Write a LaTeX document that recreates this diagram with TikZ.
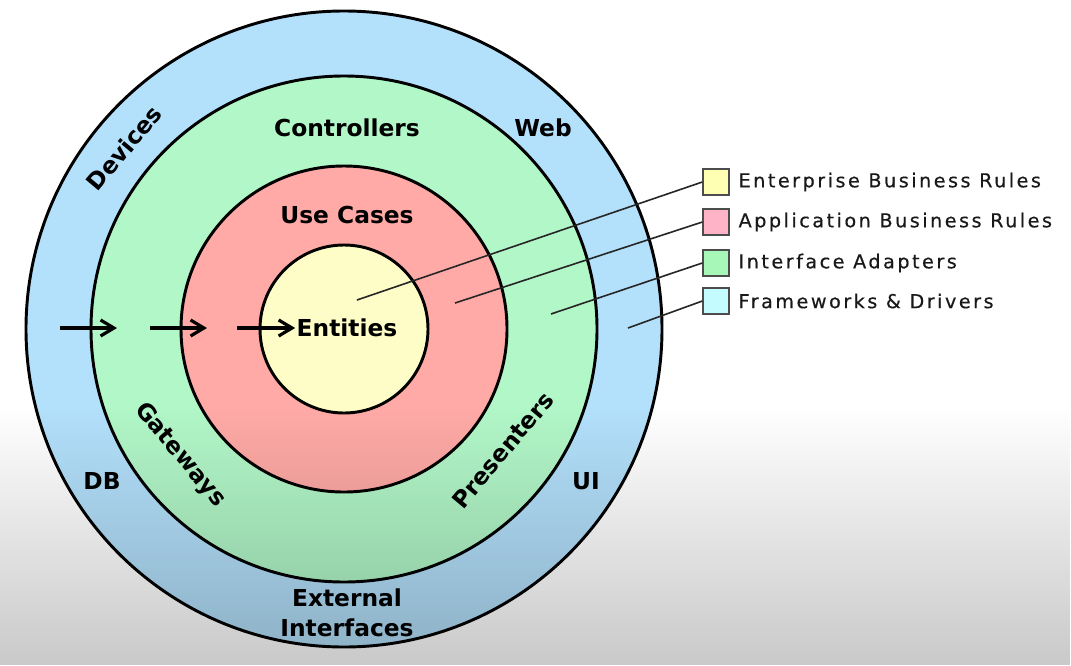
\documentclass[tikz,border=0pt]{standalone}
\usepackage{fontspec}
\setmainfont{DejaVu Sans}
\newfontfamily\legendfont[LetterSpace=13, FakeBold=0.4]{DejaVu Sans}
\usetikzlibrary{arrows.meta, positioning, fadings}
\tikzfading[name=fade bottom, top color=transparent!100, bottom color=transparent!0]
\definecolor{fwblue}{RGB}{179,224,251}
\definecolor{iagreen}{RGB}{178,247,200}
\definecolor{ucred}{RGB}{255,170,166}
\definecolor{entyellow}{RGB}{254,253,200}
\definecolor{keyyellow}{RGB}{255,255,179}
\definecolor{keypink}{RGB}{255,179,198}
\definecolor{keygreen}{RGB}{166,247,184}
\definecolor{keycyan}{RGB}{196,251,255}

\begin{document}
\begin{tikzpicture}[
  x=0.75pt, y=-0.75pt,
  ring/.style={draw=black, line width=2.2pt},
  ringtext/.style={font=\bfseries\fontsize{17.5}{22.5}\selectfont, inner sep=1pt},
  flow/.style={line width=2.4pt, -{Straight Barb[length=10pt, width=12pt]}},
  legbox/.style={draw=black!70, line width=1pt, minimum size=19.5pt, inner sep=0pt},
  legtext/.style={font=\legendfont\fontsize{14.4}{17}\selectfont, inner sep=0pt, text=black!90},
  leader/.style={draw=black!85, line width=1.2pt}
]
\fill[white] (0,0) rectangle (1071,665);
\useasboundingbox (0,0) rectangle (1071,665);

% the four rings
\coordinate (c) at (344,329);
\draw[ring, fill=fwblue] (c) circle[radius=318];
\draw[ring, fill=iagreen] (c) circle[radius=253];
\draw[ring, fill=ucred] (c) circle[radius=163];
\draw[ring, fill=entyellow] (c) circle[radius=84];

% ring labels
\node[ringtext, rotate=50] (devices) at (124,148) {Devices};
\node[ringtext] (web) at (543,128) {Web};
\node[ringtext] (db) at (102,481) {DB};
\node[ringtext] (ui) at (586,481) {UI};
\node[ringtext, align=center] (ext) at (347,613) {External\\Interfaces};
\node[ringtext] (ctrl) at (347,128) {Controllers};
\node[ringtext, rotate=-50] (gw) at (180,455) {Gateways};
\node[ringtext, rotate=50] (pres) at (503,450) {Presenters};
\node[ringtext] (uc) at (347,215) {Use Cases};
\node[ringtext] (ent) at (347,328) {Entities};

% dependency arrows
\coordinate (s1) at (60,328);
\coordinate (e1) at (117,328);
\coordinate (s2) at (150,328);
\coordinate (e2) at (207,328);
\coordinate (s3) at (237,328);
\draw[flow] (s1) -- (e1);
\draw[flow] (s2) -- (e2);
\draw[flow] (s3) -- (ent.west);

% legend
\node[legbox, fill=keyyellow] (ebr) at (716,182) {};
\node[legtext, right=6.5pt of ebr] (ebrtext) {Enterprise Business Rules};
\node[legbox, fill=keypink] (abr) at (716,222) {};
\node[legtext, right=6.5pt of abr] (abrtext) {Application Business Rules};
\node[legbox, fill=keygreen] (ia) at (716,263) {};
\node[legtext, right=6.5pt of ia] (iatext) {Interface Adapters};
\node[legbox, fill=keycyan] (fd) at (716,301) {};
\node[legtext, right=6.5pt of fd] (fdtext) {Frameworks \& Drivers};

% leaders
\coordinate (p1) at (357,300);
\coordinate (p2) at (455,303);
\coordinate (p3) at (551,314);
\coordinate (p4) at (628,328);
\draw[leader] (p1) -- (ebr.west);
\draw[leader] (p2) -- (abr.west);
\draw[leader] (p3) -- (ia.west);
\draw[leader] (p4) -- (fd.west);

% shadow at the foot
\fill[black, opacity=0.21, path fading=fade bottom] (0,405) rectangle (1071,665);
\end{tikzpicture}
\end{document}
